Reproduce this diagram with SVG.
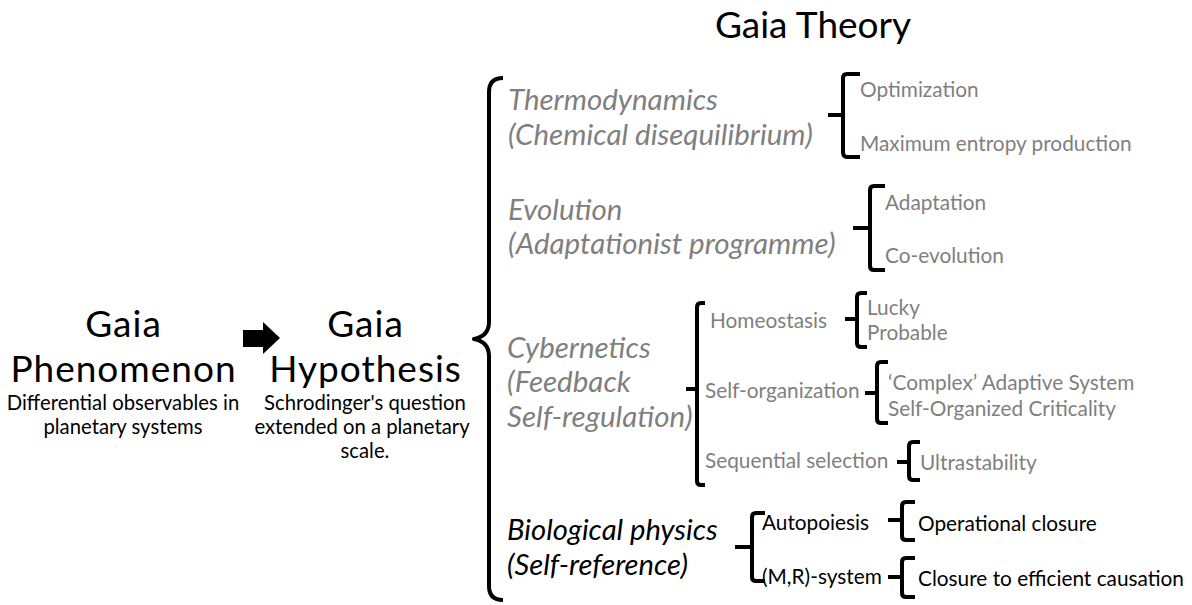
<svg xmlns="http://www.w3.org/2000/svg" width="1192" height="605" viewBox="0 0 1192 605">
<style>
text{font-family:Lato,"Liberation Sans",sans-serif}
.big{font-size:37px;letter-spacing:1px;fill:#000;text-anchor:middle}
.sub{font-size:20.3px;fill:#000;text-anchor:middle}
.cat{font-size:29.5px;font-style:italic;fill:#7f7f7f}
.catb{font-size:29.2px;font-style:italic;fill:#000}
.item{font-size:20.8px;fill:#7f7f7f}
.itemb{font-size:20.8px;fill:#000}
.br{fill:none;stroke:#000;stroke-width:4;stroke-linejoin:round}
</style>
<rect width="1192" height="605" fill="#fff"/>
<g id="title"><text x="813" y="38" style="font-size:37px;text-anchor:middle">Gaia Theory</text></g>
<g id="phenomenon">
<text class="big" x="123.5" y="337">Gaia</text>
<text class="big" x="123.5" y="382">Phenomenon</text>
<text class="sub" x="123" y="410">Differential observables in</text>
<text class="sub" x="123" y="434">planetary systems</text>
</g>
<g id="hypothesis">
<text class="big" x="365.5" y="337">Gaia</text>
<text class="big" x="365.5" y="382">Hypothesis</text>
<text class="sub" x="365" y="410">Schrodinger's question</text>
<text class="sub" x="362" y="434">extended on a planetary</text>
<text class="sub" x="365" y="458">scale.</text>
</g>
<g id="thermodynamics">
<text class="cat" x="508" y="110">Thermodynamics</text>
<text class="cat" x="508" y="145">(Chemical disequilibrium)</text>
<text class="item" x="860" y="97">Optimization</text>
<text class="item" x="860" y="151">Maximum entropy production</text>
</g>
<g id="evolution">
<text class="cat" x="508" y="220">Evolution</text>
<text class="cat" x="508" y="254">(Adaptationist programme)</text>
<text class="item" x="885" y="210">Adaptation</text>
<text class="item" x="885" y="263">Co-evolution</text>
</g>
<g id="cybernetics">
<text class="cat" x="507" y="358">Cybernetics</text>
<text class="cat" x="507" y="392">(Feedback</text>
<text class="cat" x="507" y="427">Self-regulation)</text>
<text class="item" x="710" y="328">Homeostasis</text>
<text class="item" x="705" y="398">Self-organization</text>
<text class="item" x="705" y="468">Sequential selection</text>
<text class="item" x="867" y="315">Lucky</text>
<text class="item" x="867" y="340">Probable</text>
<text class="item" x="888" y="390">‘Complex’ Adaptive System</text>
<text class="item" x="888" y="416">Self-Organized Criticality</text>
<text class="item" x="920" y="470">Ultrastability</text>
</g>
<g id="biological">
<text class="catb" x="507" y="540">Biological physics</text>
<text class="catb" x="507" y="575">(Self-reference)</text>
<text class="itemb" x="762" y="530">Autopoiesis</text>
<text class="itemb" x="762" y="584">(M,R)-system</text>
<text class="itemb" x="918" y="531">Operational closure</text>
<text class="itemb" x="918" y="586">Closure to efficient causation</text>
</g>
<g id="connectors">
<path id="arrow" d="M243 330 H263 V322 L280 338 L263 354 V347 H243 Z" fill="#000"/>
<path class="br" d="M503 78 Q489 78 489 92 V322 Q489 336 474 339 Q489 342 489 356 V586 Q489 600 503 600"/>
<path class="br" d="M860 74 H847 Q843 74 843 78 V115 H828 M843 115 V152 Q843 157 847 157 H860"/>
<path class="br" d="M885 186 H874 Q870 186 870 190 V228 H853 M870 228 V266 Q870 270 874 270 H885"/>
<path class="br" d="M705 303 H701 Q697 303 697 307 V389 H686 M697 389 V481 Q697 485 701 485 H705"/>
<path class="br" d="M867 293 H861 Q857 293 857 297 V319 H845 M857 319 V343 Q857 347 861 347 H867"/>
<path class="br" d="M888 362 H881 Q877 362 877 366 V393 H865 M877 393 V419 Q877 423 881 423 H888"/>
<path class="br" d="M920 442 H913 Q909 442 909 446 V462 H897 M909 462 V476 Q909 480 913 480 H920"/>
<path class="br" d="M765 513 H756 Q752 513 752 517 V547 H735 M752 547 V577 Q752 581 756 581 H765"/>
<path class="br" d="M915 502 H906 Q902 502 902 506 V520 H888 M902 520 V536 Q902 540 906 540 H915"/>
<path class="br" d="M915 558 H906 Q902 558 902 562 V577 H888 M902 577 V593 Q902 597 906 597 H915"/>
</g>
</svg>
